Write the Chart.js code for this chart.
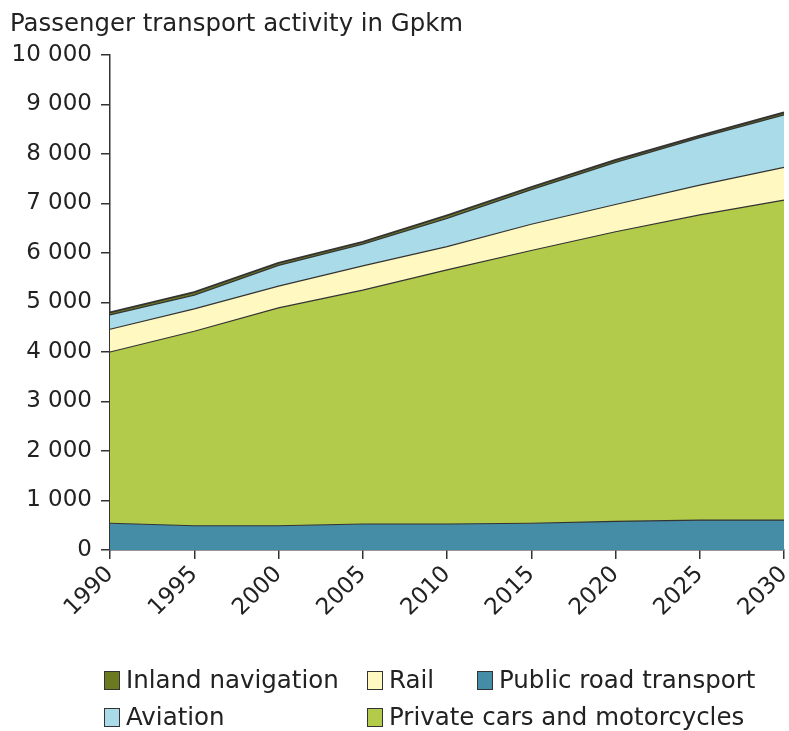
<!DOCTYPE html>
<html>
<head>
<meta charset="utf-8">
<script src="https://cdn.jsdelivr.net/npm/chart.js@4"></script>
<style>
  body { margin: 0; background: #fff; font-family: "DejaVu Sans", sans-serif; color: #222; }
  #wrap { position: relative; width: 789px; height: 731px; }
  #title { position: absolute; left: 10px; top: 8px; font-size: 24.4px; }
  .leg { position: absolute; font-size: 24.5px; white-space: nowrap; line-height: 26px; }
  .leg i { display: inline-block; width: 14px; height: 17px; border: 1.5px solid #333; vertical-align: -2px; margin-right: 6px; }
</style>
</head>
<body>
<div id="wrap">
  <canvas id="chart" width="789" height="731"></canvas>
  <div id="title">Passenger transport activity in Gpkm</div>
  <div id="legend"></div>
</div>
<script>
const years = ["1990", "1995", "2000", "2005", "2010", "2015", "2020", "2025", "2030"];
const publicRoad = [540, 490, 490, 525, 525, 540, 580, 605, 605];
const privateCars = [3460, 3930, 4400, 4725, 5135, 5510, 5850, 6165, 6465];
const rail = [460, 450, 440, 490, 470, 530, 550, 600, 660];
const aviation = [290, 280, 420, 440, 570, 700, 850, 960, 1060];
const inland = [50, 60, 50, 45, 60, 50, 50, 40, 50];

const series = [
  { label: "Public road transport", data: publicRoad, color: "#458ca6" },
  { label: "Private cars and motorcycles", data: privateCars, color: "#b3cb4a" },
  { label: "Rail", data: rail, color: "#fff8c0" },
  { label: "Aviation", data: aviation, color: "#a9dce8" },
  { label: "Inland navigation", data: inland, color: "#6b7a20" }
];

// legend laid out like the original (two rows, fixed columns)
const legendSpots = [
  ["Inland navigation", 104, 667],
  ["Rail", 367, 667],
  ["Public road transport", 477, 667],
  ["Aviation", 104, 704],
  ["Private cars and motorcycles", 367, 704]
];
const legendEl = document.getElementById("legend");
legendSpots.forEach(([name, x, y]) => {
  const s = series.find(d => d.label === name);
  const div = document.createElement("div");
  div.className = "leg";
  div.style.left = x + "px";
  div.style.top = y + "px";
  div.innerHTML = `<i style="background:${s.color}"></i>${name}`;
  legendEl.appendChild(div);
});

const fmt = v => String(v).replace(/\B(?=(\d{3})+(?!\d))/g, " ");

new Chart(document.getElementById("chart").getContext("2d"), {
  type: "line",
  data: {
    labels: years,
    datasets: series.map((s, i) => ({
      label: s.label,
      data: s.data,
      backgroundColor: s.color,
      borderColor: "#333",
      borderWidth: i === series.length - 1 ? 2 : 1.2,
      fill: i === 0 ? "origin" : "-1",
      pointRadius: 0,
      tension: 0
    }))
  },
  options: {
    responsive: false,
    animation: false,
    layout: { padding: { top: 55, right: 5, bottom: 101, left: 0 } },
    plugins: { legend: { display: false }, tooltip: { enabled: false } },
    scales: {
      x: {
        offset: false,
        grid: { drawOnChartArea: false, color: "#333", tickLength: 9, lineWidth: 1.5 },
        border: { color: "#333", width: 1.5 },
        ticks: { color: "#222", font: { family: "DejaVu Sans", size: 23 }, minRotation: 45, maxRotation: 45, padding: 2 },
        afterFit: s => { s.height = 80; s.paddingLeft = 0; s.paddingRight = 0; }
      },
      y: {
        stacked: true,
        min: 0,
        max: 10000,
        grid: { drawOnChartArea: false, color: "#333", tickLength: 9, lineWidth: 1.5 },
        border: { color: "#333", width: 1.5 },
        ticks: { stepSize: 1000, color: "#222", font: { family: "DejaVu Sans", size: 23 }, padding: 9, callback: v => fmt(v) },
        afterFit: s => { s.width = 110; }
      }
    }
  }
});
</script>
</body>
</html>
